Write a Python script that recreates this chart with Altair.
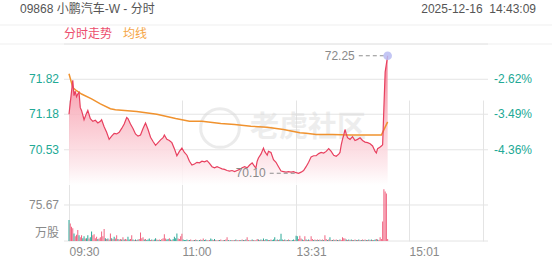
import altair as alt
import pandas as pd

# ---------------- data ----------------
# minutes since 09:30 with the lunch break removed (09:30-12:00, 13:00-16:00 -> 0..330)
price_min = [0, 3, 4, 5, 6, 7, 8, 9, 10, 12, 14, 15, 17, 19, 21, 23, 25, 26, 28, 30,
             32, 34, 36, 38, 40, 42, 44, 46, 47, 49, 51, 53, 55, 57, 59, 61, 63, 65, 67, 69,
             71, 73, 75, 76, 78, 80, 82, 84, 86, 88, 90, 92, 94, 96, 98, 100, 102, 104, 106, 108,
             110, 112, 114, 116, 118, 120, 122, 124, 126, 128, 130, 132, 134, 136, 138, 140, 142, 144, 146, 148,
             149, 150, 151, 153, 155, 156, 158, 159, 161, 163, 165, 167, 169, 171, 173, 175, 177, 179, 181, 183,
             185, 187, 189, 191, 193, 195, 197, 199, 201, 203, 205, 207, 209, 211, 213, 215, 216, 217, 218, 219,
             220, 221, 222, 224, 226, 228, 230, 232, 234, 236, 238, 240, 242, 244, 245, 246, 248, 249, 250, 251,
             252, 253, 254]
price_val = [71.18, 71.80, 71.52, 71.60, 71.50, 71.55, 71.58, 71.30, 71.25, 71.08, 71.20, 71.25, 71.10, 71.05, 71.07, 71.02, 71.05, 71.08, 70.95, 70.85,
             70.72, 70.78, 70.83, 70.82, 70.85, 70.92, 71.00, 71.12, 71.10, 71.00, 70.92, 70.82, 70.78, 70.80, 70.92, 71.02, 70.90, 70.76, 70.68, 70.61,
             70.66, 70.71, 70.75, 70.80, 70.72, 70.70, 70.66, 70.55, 70.42, 70.50, 70.56, 70.48, 70.43, 70.32, 70.25, 70.27, 70.30, 70.29, 70.32, 70.31,
             70.33, 70.28, 70.22, 70.20, 70.22, 70.20, 70.18, 70.17, 70.15, 70.14, 70.15, 70.13, 70.15, 70.17, 70.20, 70.22, 70.20, 70.25, 70.29, 70.22,
             70.20, 70.32, 70.38, 70.45, 70.56, 70.50, 70.43, 70.50, 70.48, 70.35, 70.30, 70.22, 70.14, 70.13, 70.12, 70.13, 70.12, 70.13, 70.11, 70.10,
             70.12, 70.15, 70.22, 70.30, 70.40, 70.42, 70.42, 70.46, 70.48, 70.47, 70.50, 70.55, 70.50, 70.43, 70.41, 70.45, 70.48, 70.62, 70.72, 70.80,
             70.90, 70.82, 70.75, 70.72, 70.77, 70.70, 70.72, 70.75, 70.70, 70.67, 70.66, 70.64, 70.60, 70.50, 70.47, 70.55, 70.58, 70.60, 70.62, 71.30,
             71.95, 72.10, 72.25]

avg_min = [0, 3, 6, 10, 18, 25, 33, 37, 54, 70, 85, 96, 106, 121, 132, 145, 158, 171, 184, 189, 197, 210, 223, 249, 254]
avg_val = [71.92, 71.67, 71.61, 71.55, 71.46, 71.37, 71.28, 71.26, 71.23, 71.18, 71.10, 71.05, 71.05, 71.01, 70.99, 70.96, 70.94, 70.90, 70.84, 70.83, 70.81, 70.81, 70.80, 70.80, 71.04]

# volume per minute (万股) and direction (r = up, g = down)
vol = [44, 37, 30, 27, 16, 10, 13, 23, 12, 8,
       12, 6, 10, 5, 6, 12, 5, 8, 20, 12,
       14, 6, 9, 4, 5, 8, 20, 10, 25, 6,
       4, 5, 3, 16, 6, 4, 9, 5, 12, 4,
       3, 4, 3, 8, 3, 4, 3, 9, 3, 4,
       12, 3, 2, 3, 2, 3, 4, 18, 6, 8,
       3, 4, 2, 3, 5, 2, 3, 2, 3, 6,
       3, 2, 3, 2, 4, 6, 14, 5, 3, 4,
       6, 3, 2, 4, 9, 6, 16, 5, 4, 10,
       15, 3, 2, 2, 3, 2, 2, 3, 1, 2,
       2, 3, 2, 1, 2, 3, 2, 5, 2, 3,
       2, 1, 2, 5, 3, 2, 4, 2, 1, 2,
       2, 3, 1, 2, 2, 3, 8, 2, 1, 2,
       2, 1, 2, 3, 2, 1, 2, 2, 3, 2,
       2, 3, 8, 2, 1, 2, 3, 2, 1, 2,
       4, 3, 2, 3, 2, 5, 2, 4, 3, 2,
       2, 3, 2, 3, 8, 2, 3, 2, 3, 15,
       3, 2, 3, 2, 2, 3, 2, 1, 2, 3,
       2, 11, 10, 4, 11, 5, 3, 2, 10, 3,
       2, 3, 2, 10, 4, 2, 3, 2, 3, 2,
       3, 2, 3, 2, 12, 4, 2, 3, 8, 2,
       2, 3, 2, 3, 2, 2, 3, 2, 8, 6,
       5, 3, 2, 3, 2, 3, 2, 2, 3, 2,
       2, 3, 2, 2, 3, 2, 3, 2, 2, 3,
       2, 3, 2, 2, 3, 4, 3, 2, 8, 4,
       41, 109, 104, 100, 4]
vol_dir = ("grrrgrrrgr" "rggrggrggr" "rrrgrrrrrg" "rgrrgrgrrg" "rrgrgrrggr"
           "rgrgrgrrrr" "grgggrgrgg" "rgrgrrrrgg" "rgrggggrrr" "rggggrgrgr"
           "grgrgrgrgg" "rgrggrgrgr" "grgrgrrgrg" "rgrgrgrgrg" "rgrrgrgrgr"
           "rgrgrgrggr" "grgggrgrgg" "grgrgrgrgg" "rggrrrgrrg" "rgrrrgrgrg"
           "rgrgrrgrgr" "grgrgrgrrr" "rgrgrgrgrg" "rgrgrgrgrg" "rgrggrgrrr" "rrrrr")

price_ticks = [71.82, 71.18, 70.53]
price_tick_labels = ["71.82", "71.18", "70.53"]
pct_labels = ["-2.62%", "-3.49%", "-4.36%"]
price_domain = [69.885, 72.465]
vol_ticks = [75.67]
vol_tick_labels = ["75.67"]
vol_domain = [0, 117.7]
x_ticks = [0, 90, 181, 271, 330]
x_labels = ["09:30", "11:00", "13:31", "15:01", ""]

title_left = "09868 小鹏汽车-W - 分时"
title_right = "2025-12-16\u00a0\u00a014:43:09"
legend_price = "分时走势"
legend_avg = "均线"
watermark = "老虎社区"

# ---------------- styling ----------------
W, H = 424, 197
PRICE_RANGE = [141, 0]
VOL_RANGE = [197, 141]
RED = "#e8405f"
ORANGE = "#f0922e"
TEAL = "#22a995"
VRED = "#f06480"
VTEAL = "#2aa897"
GRID = "#e4e4e4"
GRAY = "#8a8a8a"
FONT = "Liberation Sans, Noto Sans CJK SC"

price_df = pd.DataFrame({"m": price_min, "p": price_val, "base": price_domain[0]})
avg_df = pd.DataFrame({"m": avg_min, "p": avg_val})
vol_df = pd.DataFrame({"m": list(range(len(vol))), "v": vol, "zero": 0, "d": list(vol_dir)})
ptick_df = pd.DataFrame({"p": price_ticks, "lab": price_tick_labels, "pct": pct_labels})
border_df = pd.DataFrame({"p": [price_domain[1]]})
vtick_df = pd.DataFrame({"v": vol_ticks, "lab": vol_tick_labels})
vbottom_df = pd.DataFrame({"v": [0]})

label_expr = " : ".join(
    f"datum.value == {v} ? '{l}'" for v, l in zip(x_ticks, x_labels)
) + " : ''"
xaxis = alt.Axis(values=x_ticks, labelExpr=label_expr, grid=True, gridColor=GRID,
                 domain=False, ticks=False, labelAlign="left", labelPadding=5,
                 labelColor=GRAY, labelFontSize=12, labelFont=FONT, title=None)
xs = alt.Scale(domain=[0, 330], nice=False, zero=False)
X = alt.X("m:Q", scale=xs, axis=xaxis)


def ps():
    return alt.Scale(domain=price_domain, range=PRICE_RANGE, nice=False, zero=False)


def vs():
    return alt.Scale(domain=vol_domain, range=VOL_RANGE, nice=False, zero=False)


# gridlines
price_grid = alt.Chart(ptick_df).mark_rule(color=GRID, strokeWidth=1).encode(
    y=alt.Y("p:Q", scale=ps(), axis=None))
top_border = alt.Chart(border_df).mark_rule(color=GRID, strokeWidth=1).encode(
    y=alt.Y("p:Q", scale=ps(), axis=None))
vol_grid = alt.Chart(vtick_df).mark_rule(color=GRID, strokeWidth=1).encode(
    y=alt.Y("v:Q", scale=vs(), axis=None))
vol_bottom = alt.Chart(vbottom_df).mark_rule(color=GRID, strokeWidth=1).encode(
    y=alt.Y("v:Q", scale=vs(), axis=None))

# axis labels
left_labels = alt.Chart(ptick_df).mark_text(align="right", baseline="middle", fontSize=12,
                                             color=TEAL, font=FONT).encode(
    x=alt.value(-5), y=alt.Y("p:Q", scale=ps(), axis=None), text="lab:N")
right_labels = alt.Chart(ptick_df).mark_text(align="left", baseline="middle", fontSize=12,
                                              color=TEAL, font=FONT).encode(
    x=alt.value(W + 6), y=alt.Y("p:Q", scale=ps(), axis=None), text="pct:N")
vol_label = alt.Chart(vtick_df).mark_text(align="right", baseline="middle", fontSize=12,
                                           color=GRAY, font=FONT).encode(
    x=alt.value(-5), y=alt.Y("v:Q", scale=vs(), axis=None), text="lab:N")
unit_label = alt.Chart(vbottom_df).mark_text(align="right", baseline="bottom", fontSize=12,
                                              color=GRAY, font=FONT, text="万股", dy=-1).encode(
    x=alt.value(-5), y=alt.Y("v:Q", scale=vs(), axis=None))

# watermark
wm_text = alt.Chart(vbottom_df).mark_text(text=watermark, fontSize=29, fontWeight="bold",
                                           color="#d8d8d8", opacity=0.45, font=FONT,
                                           align="center", baseline="middle").encode(
    x=alt.value(244), y=alt.value(84))
wm_logo = alt.Chart(vbottom_df).mark_point(shape="circle", size=1500, filled=False,
                                            color="#d8d8d8", strokeWidth=3, opacity=0.5).encode(
    x=alt.value(156), y=alt.value(84))

# price
area = alt.Chart(price_df).mark_area(
    color=alt.Gradient(gradient="linear", x1=0, x2=0, y1=0, y2=1,
                       stops=[alt.GradientStop(color="#f26a83", offset=0),
                              alt.GradientStop(color="#f9b4c0", offset=0.45),
                              alt.GradientStop(color="#fde7eb", offset=0.85),
                              alt.GradientStop(color="#ffffff", offset=1)]),
    opacity=0.85).encode(
    x=X, y=alt.Y("p:Q", scale=ps(), axis=None), y2="base:Q")
line = alt.Chart(price_df).mark_line(color=RED, strokeWidth=1.2).encode(
    x=X, y=alt.Y("p:Q", scale=ps(), axis=None))
avg = alt.Chart(avg_df).mark_line(color=ORANGE, strokeWidth=1.5).encode(
    x=X, y=alt.Y("p:Q", scale=ps(), axis=None))

# volume
vbars = alt.Chart(vol_df).mark_bar(width=1.0).encode(
    x=X, y=alt.Y("v:Q", scale=vs(), axis=None), y2="zero:Q",
    color=alt.Color("d:N", scale=alt.Scale(domain=["r", "g"], range=[VRED, VTEAL]), legend=None))

# high / low annotations
imax = price_val.index(max(price_val))
imin = price_val.index(min(price_val))
hi_df = pd.DataFrame({"m": [price_min[imax]], "p": [price_val[imax]],
                      "m0": [price_min[imax] - 23], "m1": [price_min[imax] - 2.5],
                      "lab": [f"{price_val[imax]:.2f}"]})
lo_df = pd.DataFrame({"m": [price_min[imin]], "p": [price_val[imin]],
                      "m0": [price_min[imin] - 23], "m1": [price_min[imin] - 1],
                      "lab": [f"{price_val[imin]:.2f}"]})
annos = []
for df in (hi_df, lo_df):
    annos.append(alt.Chart(df).mark_rule(color="#8f8f8f", strokeDash=[4, 3], strokeWidth=1).encode(
        x=alt.X("m0:Q", scale=xs, axis=xaxis), x2="m1:Q", y=alt.Y("p:Q", scale=ps(), axis=None)))
    annos.append(alt.Chart(df).mark_text(align="right", baseline="middle", fontSize=12,
                                         color=GRAY, font=FONT, dx=-4).encode(
        x=alt.X("m0:Q", scale=xs, axis=xaxis), y=alt.Y("p:Q", scale=ps(), axis=None), text="lab:N"))
hi_dot = alt.Chart(hi_df).mark_point(shape="circle", size=75, filled=True, color="#b8bcf2",
                                     opacity=0.85).encode(
    x=X, y=alt.Y("p:Q", scale=ps(), axis=None))

# header
hdr_left = alt.Chart(vbottom_df).mark_text(text=title_left, align="left", baseline="middle",
                                            fontSize=12, color="#555555", font=FONT).encode(
    x=alt.value(-44), y=alt.value(-35))
hdr_right = alt.Chart(vbottom_df).mark_text(text=title_right, align="right", baseline="middle",
                                             fontSize=12, color="#555555", font=FONT).encode(
    x=alt.value(472), y=alt.value(-35))
hdr_line1 = alt.Chart(vbottom_df).mark_rule(color="#efefef").encode(
    x=alt.value(-64), x2=alt.value(488), y=alt.value(-19))
hdr_line2 = alt.Chart(vbottom_df).mark_rule(color="#efefef").encode(
    x=alt.value(-64), x2=alt.value(488), y=alt.value(0))
leg1 = alt.Chart(vbottom_df).mark_text(text=legend_price, align="left", baseline="middle",
                                       fontSize=12, color="#ec4d6d", font=FONT).encode(
    x=alt.value(0), y=alt.value(-10))
leg2 = alt.Chart(vbottom_df).mark_text(text=legend_avg, align="left", baseline="middle",
                                       fontSize=12, color="#f5a544", font=FONT).encode(
    x=alt.value(59), y=alt.value(-10))

chart = alt.layer(
    hdr_line1, hdr_line2, price_grid, top_border, vol_grid, vol_bottom,
    wm_logo, wm_text,
    area, avg, line, vbars, *annos, hi_dot,
    left_labels, right_labels, vol_label, unit_label,
    hdr_left, hdr_right, leg1, leg2,
).resolve_scale(y="independent").properties(
    width=W, height=H,
    autosize=alt.AutoSizeParams(type="none"),
    padding={"left": 64, "top": 44, "right": 64, "bottom": 24},
    background="white",
).configure_view(stroke=None)

chart.save("out.html", embed_options={"renderer": "svg", "actions": False})
